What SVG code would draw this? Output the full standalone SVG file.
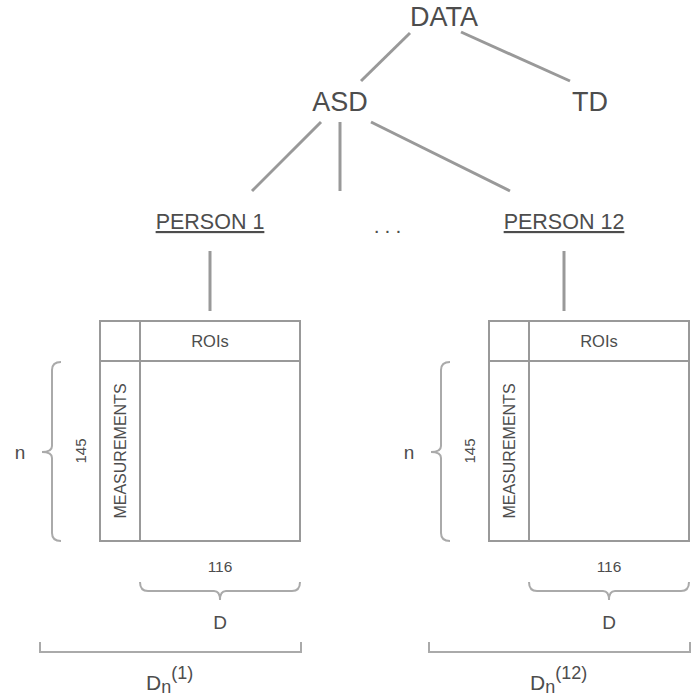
<svg xmlns="http://www.w3.org/2000/svg" width="691" height="698" viewBox="0 0 691 698">
<style>
text{font-family:"Liberation Sans",Arial,sans-serif;fill:#4d4d4d}
.c{stroke:#999;stroke-width:3;fill:none}
.b{stroke:#999;stroke-width:2;fill:#fff}
.br{stroke:#aaa;stroke-width:2;fill:none}
</style>
<rect width="691" height="698" fill="#fff"/>
<g id="connectors">
<line class="c" x1="410" y1="33" x2="361" y2="81"/>
<line class="c" x1="461" y1="32" x2="570" y2="81"/>
<line class="c" x1="321" y1="122" x2="252" y2="191"/>
<line class="c" x1="340" y1="122" x2="340" y2="191"/>
<line class="c" x1="371" y1="122" x2="510" y2="191"/>
<line class="c" x1="210" y1="251" x2="210" y2="311"/>
<line class="c" x1="564" y1="251" x2="564" y2="311"/>
</g>
<g id="data"><text x="444" y="26" font-size="27" text-anchor="middle">DATA</text></g>
<g id="asd"><text x="340" y="111" font-size="27" text-anchor="middle">ASD</text></g>
<g id="td"><text x="590" y="111" font-size="27" text-anchor="middle">TD</text></g>
<g id="person1"><text x="210" y="229" font-size="21.5" text-anchor="middle" text-decoration="underline">PERSON 1</text></g>
<g id="ellipsis"><text x="390" y="233" font-size="21" text-anchor="middle" letter-spacing="5">...</text></g>
<g id="person12"><text x="564" y="229" font-size="21.5" text-anchor="middle" text-decoration="underline">PERSON 12</text></g>
<g id="matrix1">
<rect class="b" x="100" y="321" width="200" height="220"/>
<line class="b" x1="100" y1="361" x2="300" y2="361"/>
<line class="b" x1="140" y1="321" x2="140" y2="541"/>
<text x="210" y="347" font-size="16.5" text-anchor="middle">ROIs</text>
<text transform="translate(126,451) rotate(-90)" font-size="16" text-anchor="middle">MEASUREMENTS</text>
<text transform="translate(86,451) rotate(-90)" font-size="15" text-anchor="middle">145</text>
<text x="20" y="459" font-size="19" text-anchor="middle">n</text>
<path class="br" d="M61,362 Q52,362 52,370 L52,446 Q52,452 42,452 Q52,452 52,458 L52,533 Q52,541 61,541"/>
<text x="220" y="572" font-size="15.5" text-anchor="middle">116</text>
<path class="br" d="M140,582 Q140,591 148,591 L214,591 Q220,591 220,600 Q220,591 226,591 L292,591 Q300,591 300,582"/>
<text x="220" y="629" font-size="19" text-anchor="middle">D</text>
<path class="br" d="M40,642 L40,652 L301,652 L301,642"/>
<text x="146" y="690" font-size="21">D<tspan font-size="18" dy="3">n</tspan><tspan font-size="18" dy="-14">(1)</tspan></text>
</g>
<g id="matrix12">
<rect class="b" x="489" y="321" width="200" height="220"/>
<line class="b" x1="489" y1="361" x2="689" y2="361"/>
<line class="b" x1="529" y1="321" x2="529" y2="541"/>
<text x="599" y="347" font-size="16.5" text-anchor="middle">ROIs</text>
<text transform="translate(515,451) rotate(-90)" font-size="16" text-anchor="middle">MEASUREMENTS</text>
<text transform="translate(475,451) rotate(-90)" font-size="15" text-anchor="middle">145</text>
<text x="409" y="459" font-size="19" text-anchor="middle">n</text>
<path class="br" d="M450,362 Q441,362 441,370 L441,446 Q441,452 431,452 Q441,452 441,458 L441,533 Q441,541 450,541"/>
<text x="609" y="572" font-size="15.5" text-anchor="middle">116</text>
<path class="br" d="M529,582 Q529,591 537,591 L603,591 Q609,591 609,600 Q609,591 615,591 L681,591 Q689,591 689,582"/>
<text x="609" y="629" font-size="19" text-anchor="middle">D</text>
<path class="br" d="M429,642 L429,652 L690,652 L690,642"/>
<text x="530" y="690" font-size="21">D<tspan font-size="18" dy="3">n</tspan><tspan font-size="18" dy="-14">(12)</tspan></text>
</g>
</svg>
